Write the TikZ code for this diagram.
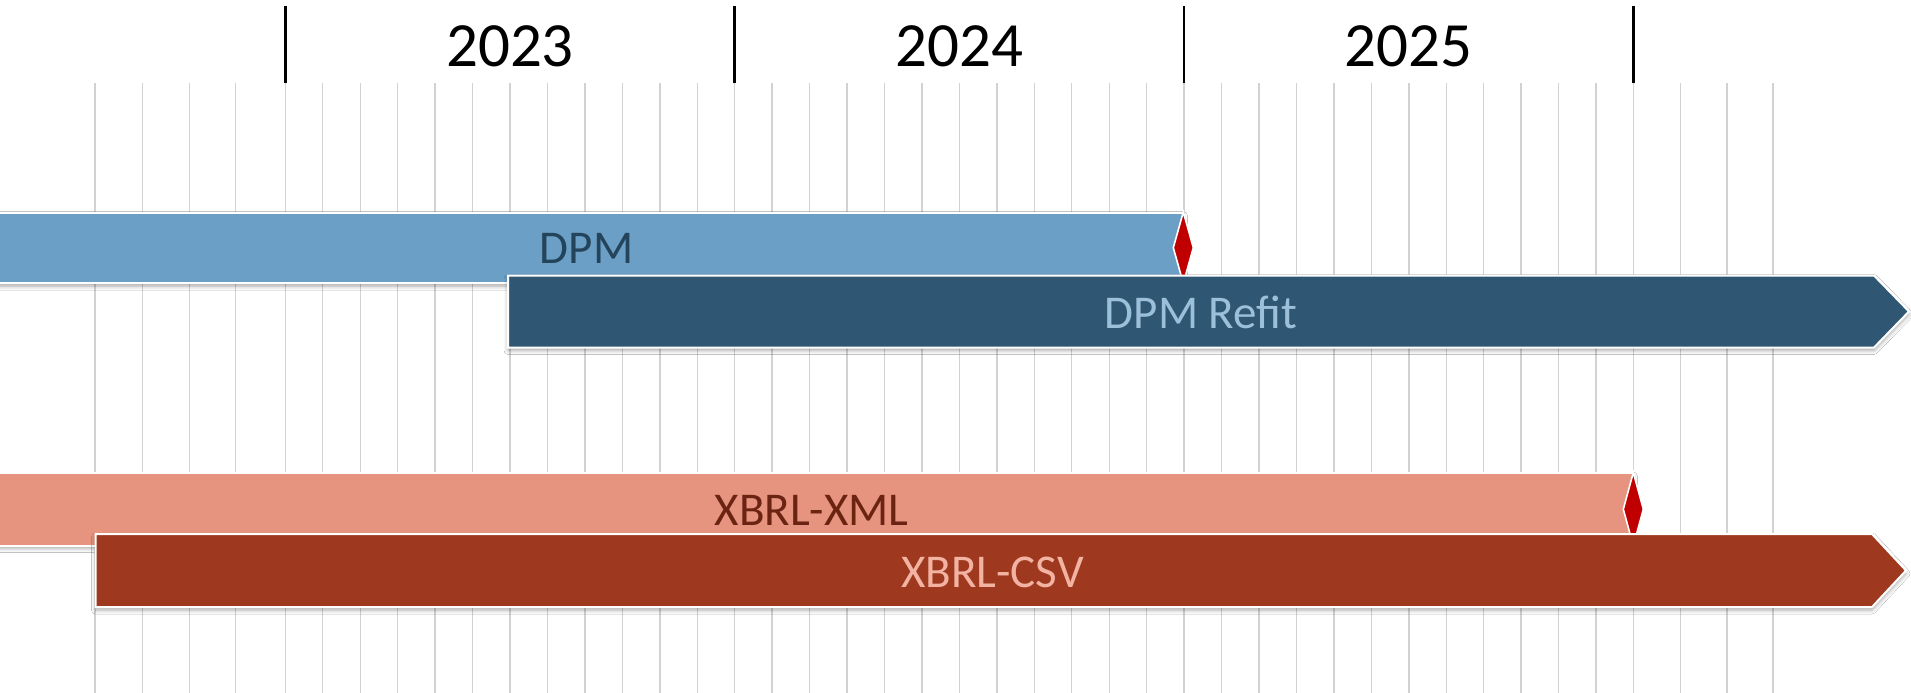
\documentclass[tikz,border=0pt]{standalone}
\usepackage{fontspec}
\setmainfont{Carlito}
\usetikzlibrary{shadows.blur}
\definecolor{dpmbar}{HTML}{6B9FC5}
\definecolor{dpmtext}{HTML}{24445C}
\definecolor{refitbar}{HTML}{2F5773}
\definecolor{refittext}{HTML}{9DC0DA}
\definecolor{xmlbar}{HTML}{E6937F}
\definecolor{xmltext}{HTML}{6B2312}
\definecolor{csvbar}{HTML}{9E381E}
\definecolor{csvtext}{HTML}{F2B3A3}
\definecolor{milestone}{HTML}{C00000}
\definecolor{gridgray}{HTML}{D2D2D2}
\tikzset{
  gridline/.style={draw=gridgray, line width=1.4pt},
  yeartick/.style={draw=black, line width=2.6pt},
  yearlabel/.style={anchor=base, inner sep=0pt, font=\fontsize{63}{70}\selectfont, text=black},
  barlabel/.style={anchor=base, inner sep=0pt, font=\fontsize{47}{54}\selectfont},
  bar/.style={draw=white, line width=2pt,
    blur shadow={shadow xshift=0pt, shadow yshift=-3pt, shadow blur radius=4pt, shadow opacity=35}},
  milestonebox/.style={fill=milestone, draw=white, line width=1.6pt, line join=miter}
}
\begin{document}
\begin{tikzpicture}[x=1pt,y=-1pt]
\useasboundingbox (0,0) rectangle (1911,693);
\fill[white] (0,0) rectangle (1911,693);
\begin{scope}
\clip (0,0) rectangle (1911,693);
% grid lines
\foreach \gx in {94.9,142.7,189.2,235.7,1680.4,1727,1773}
  \draw[gridline] (\gx,83) -- (\gx,693);
\foreach \k in {0,...,36}
  \draw[gridline] ({285.3+37.45*\k},83) -- ({285.3+37.45*\k},693);
% year ticks
\foreach \tx in {285.3,734.7,1184.1,1633.5}
  \draw[yeartick] (\tx,6) -- (\tx,83);
\node[yearlabel] (y2023) at (510,66.7) {2023};
\node[yearlabel] (y2024) at (959.4,66.7) {2024};
\node[yearlabel] (y2025) at (1408.8,66.7) {2025};
% DPM
\path[bar, fill=dpmbar] (-20,212.5) rectangle (1183.3,283);
\node[barlabel, text=dpmtext] (dpm) at (586.5,263) {DPM};
\path[milestonebox] (1183.3,212) -- (1193.3,247.7) -- (1183.3,283.4) -- (1173.3,247.7) -- cycle;
% DPM Refit
\path[bar, fill=refitbar] (508,275.5) -- (1874,275.5) -- (1909,311.5) -- (1874,347.5) -- (508,347.5) -- cycle;
\node[barlabel, text=refittext] (refit) at (1201,328) {DPM Refit};
% XBRL-XML
\path[bar, fill=xmlbar] (-20,473) rectangle (1633.3,545.5);
\node[barlabel, text=xmltext] (xml) at (811.6,525) {XBRL-XML};
\path[milestonebox] (1633.3,472.5) -- (1643.3,509.2) -- (1633.3,545.9) -- (1623.3,509.2) -- cycle;
% XBRL-CSV
\path[bar, fill=csvbar] (95.5,534) -- (1872,534) -- (1906,570.5) -- (1872,607) -- (95.5,607) -- cycle;
\node[barlabel, text=csvtext] (csv) at (992.5,587) {XBRL-CSV};
\end{scope}
\end{tikzpicture}
\end{document}
